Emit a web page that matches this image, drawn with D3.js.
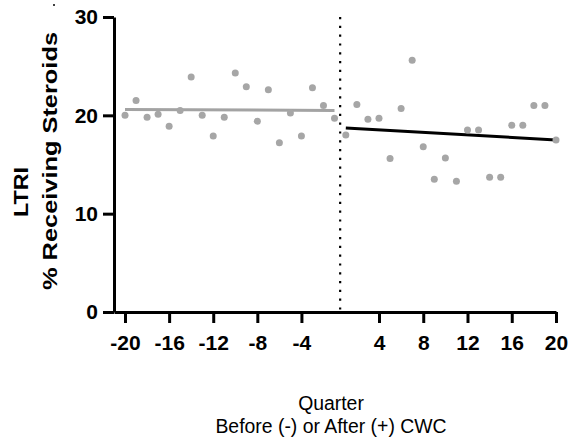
<!DOCTYPE html>
<html><head><meta charset="utf-8">
<script src="https://cdn.jsdelivr.net/npm/d3@7"></script>
<style>body{margin:0;background:#fff}svg{display:block}</style>
</head><body>
<svg id="c" width="576" height="444"></svg>
<script>
const preQuarters = d3.range(-20, 0);
const preValues = [20.0,21.5,19.8,20.1,18.9,20.5,23.9,20.0,17.9,19.8,24.3,22.9,19.4,22.6,17.2,20.25,17.9,22.8,21.0,19.7];
const postQuarters = d3.range(1, 21);
const postValues = [18.0,21.1,19.6,19.7,15.6,20.7,25.6,16.8,13.5,15.65,13.3,18.5,18.5,13.7,13.7,19.0,19.0,21.0,21.0,17.5];
const preFit = [{q:-20, v:20.6},{q:-1, v:20.5}];
const postFit = [{q:1, v:18.7},{q:20, v:17.5}];
const xTicks = [-20,-16,-12,-8,-4,4,8,12,16,20];
const yTicks = [0,10,20,30];

const svg = d3.select("#c");
const font = "'Liberation Sans', Arial, sans-serif";
const x = d3.scaleLinear().domain([-21,-1,1,20]).range([114,334.5,345.8,556]);
const y = d3.scaleLinear().domain([0,30]).range([312,17]);

const xa = svg.append("g").attr("transform","translate(0,312)")
  .call(d3.axisBottom(x).tickValues(xTicks).tickSize(11).tickSizeOuter(0).tickPadding(12).tickFormat(d3.format("d")));
const ya = svg.append("g").attr("transform","translate(114,0)")
  .call(d3.axisLeft(y).tickValues(yTicks).tickSize(11).tickSizeOuter(0).tickPadding(5));
[xa,ya].forEach(g=>{
  g.selectAll("path,line").attr("stroke","#000").attr("stroke-width",3);
  g.selectAll("text").attr("font-family",font).attr("font-size",21).attr("font-weight","bold").attr("fill","#000");
});
xa.selectAll("text").text(d=>d<0?"-"+Math.abs(d):d);

// dotted divider at quarter 0
svg.append("line").attr("x1",x(0)).attr("x2",x(0)).attr("y1",y(30)).attr("y2",y(0))
  .attr("stroke","#000").attr("stroke-width",2.2).attr("stroke-dasharray","2.2,6.6");

const line = d3.line().x(d=>x(d.q)).y(d=>y(d.v));
svg.append("path").datum(preFit).attr("d",line).attr("stroke","#a3a3a3").attr("stroke-width",3).attr("fill","none");
svg.append("path").datum(postFit).attr("d",line).attr("stroke","#000").attr("stroke-width",3).attr("fill","none");

const pts = preQuarters.map((q,i)=>({q,v:preValues[i]})).concat(postQuarters.map((q,i)=>({q,v:postValues[i]})));
svg.append("g").selectAll("circle").data(pts).join("circle")
  .attr("cx",d=>x(d.q)).attr("cy",d=>y(d.v)).attr("r",3.5).attr("fill","#a6a6a6");

// Y title
svg.append("text").attr("transform","translate(28,192) rotate(-90)").attr("text-anchor","middle")
  .attr("font-family",font).attr("font-size",20).attr("font-weight","bold")
  .attr("textLength",50).attr("lengthAdjust","spacingAndGlyphs").text("LTRI");
svg.append("text").attr("transform","translate(57,161) rotate(-90)").attr("text-anchor","middle")
  .attr("font-family",font).attr("font-size",20).attr("font-weight","bold")
  .attr("textLength",258).attr("lengthAdjust","spacingAndGlyphs").text("% Receiving Steroids");
svg.append("circle").attr("cx",54).attr("cy",5).attr("r",1).attr("fill","#000");

// X title
svg.append("text").attr("x",331).attr("y",410).attr("text-anchor","middle")
  .attr("font-family",font).attr("font-size",19.4).text("Quarter");
svg.append("text").attr("x",331).attr("y",433).attr("text-anchor","middle")
  .attr("font-family",font).attr("font-size",19.4).text("Before (-) or After (+) CWC");
</script>
</body></html>
